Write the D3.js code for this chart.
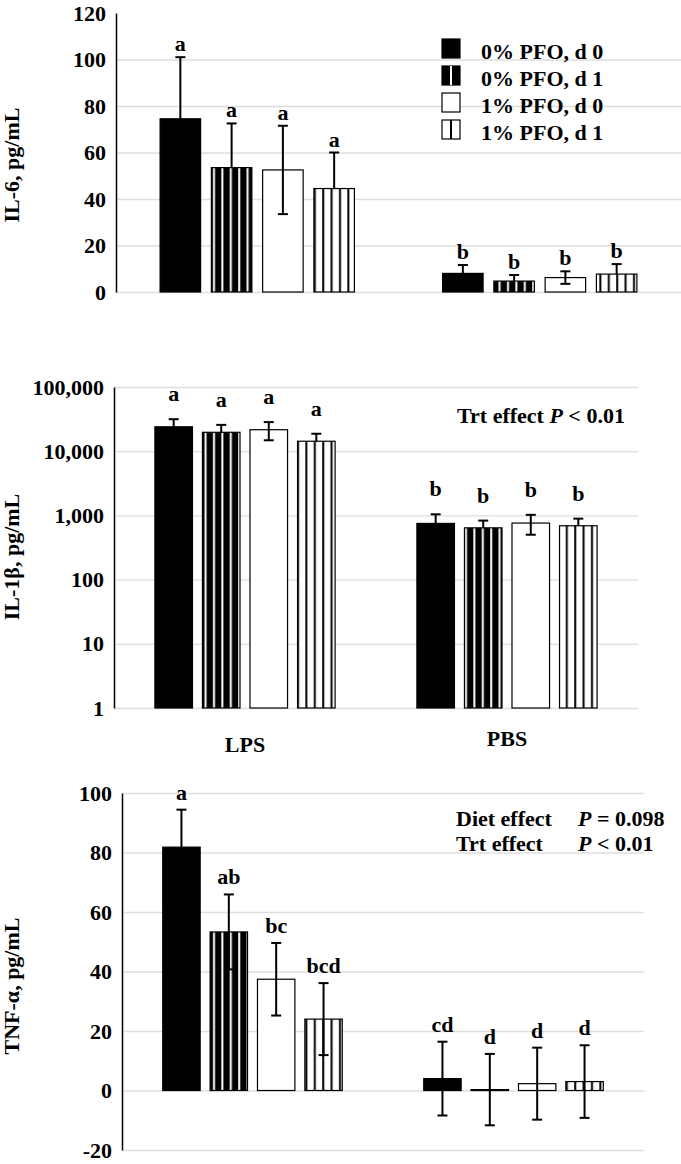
<!DOCTYPE html>
<html>
<head>
<meta charset="utf-8">
<script src="https://cdn.jsdelivr.net/npm/d3@7"></script>
<style>
  body { margin: 0; background: #fff; }
  text { font-family: "Liberation Serif", "Times New Roman", serif; font-weight: bold; font-size: 22px; fill: #000; }
</style>
</head>
<body>
<div id="chart"></div>
<script>
const groups = ["LPS", "PBS"];
const series = ["0% PFO, d 0", "0% PFO, d 1", "1% PFO, d 0", "1% PFO, d 1"];

// IL-6
const il6Mean = [[74.5, 53.5, 52.5, 44.5], [8.0, 4.7, 6.2, 7.7]];
const il6SE = [[26.5, 19, 19, 15.5], [3.6, 2.6, 2.7, 4.3]];
const il6Letters = [["a", "a", "a", "a"], ["b", "b", "b", "b"]];
const il6Ticks = [0, 20, 40, 60, 80, 100, 120];

// IL-1b (log axis)
const il1bMean = [[24000, 19700, 21600, 14300], [750, 640, 760, 690]];
const il1bSE = [[7500, 6000, 6800, 4400], [290, 190, 260, 200]];
const il1bLetters = [["a", "a", "a", "a"], ["b", "b", "b", "b"]];
const il1bTicks = [1, 10, 100, 1000, 10000, 100000];

// TNF-a
const tnfMean = [[81.8, 53.3, 37.4, 24.0], [4.0, 0.3, 2.3, 3.0]];
const tnfSE = [[12.6, 12.6, 12.2, 12.1], [12.4, 12.0, 12.1, 12.2]];
const tnfLetters = [["a", "ab", "bc", "bcd"], ["cd", "d", "d", "d"]];
const tnfTicks = [-20, 0, 20, 40, 60, 80, 100];

const fills = ["#000", "url(#stripeDark)", "#fff", "url(#stripeLight)"];

const svg = d3.select("#chart").append("svg")
  .attr("width", 681)
  .attr("height", 1164);

// stripe patterns
const defs = svg.append("defs");
const dark = defs.append("pattern").attr("id", "stripeDark")
  .attr("patternUnits", "userSpaceOnUse").attr("width", 8.4).attr("height", 10);
dark.append("rect").attr("width", 8.4).attr("height", 10).attr("fill", "#000");
dark.append("rect").attr("x", 3).attr("width", 2).attr("height", 10).attr("fill", "#fff");
const light = defs.append("pattern").attr("id", "stripeLight")
  .attr("patternUnits", "userSpaceOnUse").attr("width", 8.4).attr("height", 10);
light.append("rect").attr("width", 8.4).attr("height", 10).attr("fill", "#fff");
light.append("rect").attr("x", 3).attr("width", 2).attr("height", 10).attr("fill", "#000");

const plainNum = d => String(d); // keeps a plain hyphen for negatives

const drawPanel = p => {
  const y = (p.log ? d3.scaleLog() : d3.scaleLinear())
    .domain(p.domain)
    .range([p.bottom, p.top]);

  const x0 = d3.scaleBand().domain(groups).range([p.left, p.right]);
  const x1 = d3.scaleBand().domain(series).range([0, x0.bandwidth()])
    .paddingInner(0.21)
    .paddingOuter(0.86);

  // gridlines
  svg.append("g")
    .attr("transform", `translate(${p.left},0)`)
    .call(d3.axisLeft(y).tickValues(p.grid).tickSize(-(p.right - p.left)).tickFormat(""))
    .call(g => g.select(".domain").remove())
    .selectAll("line").attr("stroke", "#dedede").attr("stroke-width", 1.3);

  const rows = groups.flatMap((g, gi) => series.map((s, si) => ({
    g, s, si,
    mean: p.mean[gi][si],
    se: p.se[gi][si],
    letter: p.letters[gi][si]
  })));
  const base = p.log ? 1 : 0;
  const cx = d => x0(d.g) + x1(d.s) + x1.bandwidth() / 2;

  svg.append("g").selectAll("rect").data(rows).join("rect")
    .attr("x", d => x0(d.g) + x1(d.s))
    .attr("width", x1.bandwidth())
    .attr("y", d => y(d.mean))
    .attr("height", d => Math.max(0.5, y(base) - y(d.mean)))
    .attr("fill", d => fills[d.si])
    .attr("stroke", "#000")
    .attr("stroke-width", 1.2);

  // error bars (some series only show the upper half)
  const lower = d => p.bothSides.includes(d.si) ? y(d.mean - d.se) : y(d.mean);
  const err = svg.append("g").attr("stroke", "#000").attr("stroke-width", 2);
  err.selectAll(".v").data(rows).join("line")
    .attr("x1", cx).attr("x2", cx)
    .attr("y1", d => y(d.mean + d.se))
    .attr("y2", lower);
  err.selectAll(".t").data(rows).join("line")
    .attr("x1", d => cx(d) - 5).attr("x2", d => cx(d) + 5)
    .attr("y1", d => y(d.mean + d.se)).attr("y2", d => y(d.mean + d.se));
  err.selectAll(".b").data(rows.filter(d => p.bothSides.includes(d.si))).join("line")
    .attr("x1", d => cx(d) - 5).attr("x2", d => cx(d) + 5)
    .attr("y1", d => y(d.mean - d.se)).attr("y2", d => y(d.mean - d.se));

  // letters
  svg.append("g").selectAll("text").data(rows).join("text")
    .attr("x", cx)
    .attr("y", d => y(d.mean + d.se) - p.gap)
    .attr("text-anchor", "middle")
    .text(d => d.letter);

  // y axis
  svg.append("g")
    .attr("transform", `translate(${p.left},0)`)
    .call(d3.axisLeft(y).tickValues(p.ticks).tickSize(0).tickPadding(10).tickFormat(p.format))
    .call(g => g.select(".domain").attr("stroke", "#000").attr("stroke-width", 1.5));

  svg.append("text")
    .attr("transform", `translate(19,${p.titleY}) rotate(-90)`)
    .attr("text-anchor", "middle")
    .text(p.title);

  return { x0, y };
};

drawPanel({
  left: 116, right: 681, top: 13, bottom: 292,
  domain: [0, 120], ticks: il6Ticks, grid: il6Ticks.slice(0, 6), format: plainNum,
  mean: il6Mean, se: il6SE, letters: il6Letters, gap: 6, bothSides: [2],
  title: "IL-6, pg/mL", titleY: 165
});

const p2 = drawPanel({
  left: 114, right: 638, top: 387, bottom: 708, log: true,
  domain: [1, 100000], ticks: il1bTicks, grid: il1bTicks, format: d3.format(","),
  mean: il1bMean, se: il1bSE, letters: il1bLetters, gap: 18, bothSides: [2],
  title: "IL-1β, pg/mL", titleY: 557
});

drawPanel({
  left: 122, right: 644, top: 793, bottom: 1150,
  domain: [-20, 100], ticks: tnfTicks, grid: tnfTicks, format: plainNum,
  mean: tnfMean, se: tnfSE, letters: tnfLetters, gap: 10, bothSides: [0, 1, 2, 3],
  title: "TNF-α, pg/mL", titleY: 986
});

// category labels under the IL-1b panel
svg.append("g").selectAll("text").data(groups).join("text")
  .attr("x", d => p2.x0(d) + p2.x0.bandwidth() / 2)
  .attr("y", (d, i) => i === 0 ? 752 : 746)
  .attr("text-anchor", "middle")
  .text(d => d);

// legend
const legend = svg.append("g").attr("transform", "translate(442,39)");
series.forEach((s, i) => {
  const row = legend.append("g").attr("transform", `translate(0,${i * 27})`);
  row.append("rect").attr("width", 18).attr("height", 19)
    .attr("fill", i < 2 ? "#000" : "#fff").attr("stroke", "#000").attr("stroke-width", 1.2);
  if (i % 2 === 1) {
    row.append("line").attr("x1", 9).attr("x2", 9).attr("y1", 0).attr("y2", 19)
      .attr("stroke", i === 1 ? "#fff" : "#000").attr("stroke-width", 2);
  }
  row.append("text").attr("x", 39).attr("y", 20).text(s);
});

// statistics notes
const note = (x, y, parts) => {
  const t = svg.append("text").attr("x", x).attr("y", y);
  parts.forEach(([str, it]) => t.append("tspan").attr("font-style", it ? "italic" : null).text(str));
};
note(457, 423, [["Trt effect ", false], ["P", true], [" < 0.01", false]]);
note(456, 826, [["Diet effect", false]]);
note(578, 826, [["P", true], [" = 0.098", false]]);
note(456, 851, [["Trt effect", false]]);
note(578, 851, [["P", true], [" < 0.01", false]]);
</script>
</body>
</html>
